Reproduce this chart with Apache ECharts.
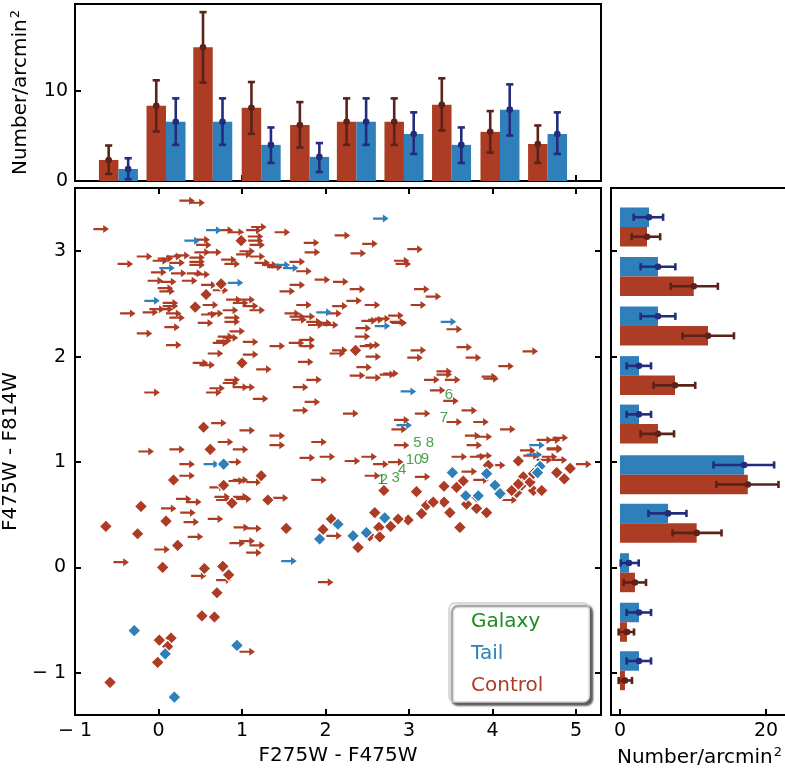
<!DOCTYPE html>
<html><head><meta charset="utf-8">
<script src="https://cdn.jsdelivr.net/npm/echarts@6/dist/echarts.min.js"></script>
<style>html,body{margin:0;padding:0;background:#fff}#c{width:785px;height:770px}</style>
</head><body><div id="c"></div>
<script>
// ---------- Top histogram (F275W - F475W bins) ----------
const topBinCenters = [-0.48, 0.09, 0.65, 1.23, 1.81, 2.37, 2.94, 3.51, 4.09, 4.66];
const topControl   = [2.33, 8.33, 14.8, 8.1, 6.2, 6.55, 6.55, 8.44, 5.44, 4.1];
const topControlLo = [0.78, 5.48, 10.9, 5.22, 3.7, 4.0, 4.0, 5.6, 3.15, 2.0];
const topControlHi = [3.93, 11.15, 18.7, 10.96, 8.74, 9.15, 9.15, 11.37, 7.74, 6.15];
const topTail      = [1.33, 6.55, 6.55, 4.0, 2.67, 6.55, 5.2, 4.0, 7.9, 5.2];
const topTailLo    = [0.19, 4.0, 4.0, 2.0, 1.0, 4.0, 3.0, 2.0, 5.04, 3.0];
const topTailHi    = [2.52, 9.15, 9.15, 5.93, 4.2, 9.15, 7.6, 5.93, 10.7, 7.6];

// ---------- Right histogram (F475W - F814W bins) ----------
const rightBinCenters = [3.23, 2.76, 2.29, 1.82, 1.36, 0.88, 0.42, -0.05, -0.52, -0.98];
const rightTail      = [3.97, 5.2, 5.2, 2.6, 2.6, 17.0, 6.58, 1.23, 2.6, 2.6];
const rightTailLo    = [1.87, 2.83, 2.83, 0.91, 0.91, 12.8, 3.9, 0.1, 0.91, 0.91];
const rightTailHi    = [5.9, 7.58, 7.58, 4.25, 4.25, 21.1, 9.1, 2.56, 4.25, 4.25];
const rightControl   = [3.7, 10.1, 12.05, 7.53, 5.2, 17.5, 10.5, 2.05, 0.96, 0.68];
const rightControlLo = [1.6, 6.94, 8.58, 4.6, 2.83, 13.2, 7.2, 0.5, -0.18, -0.18];
const rightControlHi = [5.5, 13.4, 15.6, 10.3, 7.4, 21.7, 13.9, 3.56, 1.92, 1.64];

// ---------- Colour-colour diagram ----------
// arrows: lower limits in F275W - F475W, value = arrow tail
const controlArrows = [
[0.25,3.48],[0.37,3.46],[-0.78,3.21],[0.71,3.20],[0.84,3.18],[1.05,3.20],[1.11,3.23],[1.39,3.18],
[0.43,3.11],[0.45,3.06],[1.07,3.14],[1.07,3.10],[1.09,3.06],[1.74,3.08],[1.75,2.99],[0.43,2.99],
[0.57,2.99],[-0.26,2.95],[-0.49,2.88],[-0.01,2.93],[0.09,2.95],[0.19,2.96],[0.37,2.94],[0.37,2.90],
[-0.07,2.91],[0.13,2.89],[0.37,2.87],[0.75,2.92],[0.79,2.88],[0.93,2.97],[0.97,3.00],[1.09,2.95],
[1.15,2.89],[1.24,2.87],[1.30,2.85],[1.57,2.90],[1.65,2.81],[1.87,2.73],[2.09,2.71],[-0.09,2.80],
[0.15,2.79],[0.34,2.79],[0.43,2.78],[-0.13,2.72],[0.03,2.71],[0.28,2.72],[0.51,2.68],[-0.01,2.65],
[0.01,2.62],[0.65,2.63],[1.45,2.62],[1.57,2.68],[0.05,2.51],[0.05,2.48],[0.53,2.49],[0.81,2.54],
[0.89,2.51],[0.97,2.54],[1.01,2.48],[1.09,2.44],[1.65,2.49],[2.01,2.41],[-0.46,2.41],[-0.19,2.42],
[-0.11,2.45],[-0.01,2.45],[0.09,2.41],[0.13,2.37],[0.51,2.40],[0.59,2.41],[0.47,2.32],[0.77,2.44],
[0.79,2.37],[0.79,2.33],[0.85,2.24],[1.51,2.41],[1.57,2.38],[1.59,2.35],[1.69,2.38],[1.77,2.33],
[1.79,2.30],[1.89,2.32],[1.97,2.30],[-0.26,2.22],[0.07,2.28],[0.71,2.19],[0.69,2.15],[0.77,2.18],
[0.65,2.13],[1.01,2.14],[1.33,2.10],[1.56,2.13],[1.69,2.16],[1.69,2.10],[0.09,2.11],[0.59,2.03],
[1.01,2.02],[0.41,1.94],[0.49,1.92],[1.17,1.88],[1.67,1.95],[1.77,1.78],[0.79,1.78],
[0.77,1.75],[0.89,1.71],[0.61,1.70],[0.57,1.66],[0.97,1.71],[1.61,1.71],[-0.17,1.66],[1.13,1.60],
[1.75,1.57],[1.61,1.49],[0.63,1.37],[0.97,1.30],[1.33,1.25],[1.33,1.16],[0.71,1.19],[1.83,1.19],
[-0.24,1.10],[0.13,1.12],[0.89,1.12],[1.69,1.04],[1.93,1.05],[0.25,0.98],[0.81,1.00],[0.25,0.87],
[0.84,0.82],[0.89,0.83],[1.05,0.81],[1.83,0.83],[0.61,0.76],[0.21,0.65],[0.33,0.62],[0.67,0.67],
[0.69,0.64],[0.89,0.67],[0.93,0.65],[1.37,0.66],[0.03,0.56],[0.26,0.52],[0.30,0.43],[0.59,0.46],
[0.35,0.29],[0.90,0.38],[1.05,0.37],[-0.05,0.17],[0.85,0.23],[0.97,0.25],[1.09,0.21],[1.05,0.14],
[-0.54,0.05],[0.39,-0.08],[0.69,-0.12],[1.91,-0.14],[0.97,-0.80],
[2.11,3.15],[2.44,3.07],[2.30,2.98],[2.98,3.02],[2.82,2.91],[2.84,2.88],[2.29,2.64],
[3.06,2.64],[3.20,2.57],[2.25,2.53],[2.08,2.48],[2.47,2.49],[3.02,2.49],[2.43,2.34],
[2.51,2.35],[2.59,2.36],[2.75,2.39],[2.77,2.33],[2.79,2.32],[2.36,2.27],[2.35,2.19],
[3.45,2.26],[2.08,2.06],[2.05,2.03],[2.41,2.10],[2.47,2.11],[2.48,2.00],[3.02,2.06],[2.98,1.99],
[3.57,2.09],[3.68,1.99],[4.36,2.05],[4.07,1.91],[2.37,1.90],[2.29,1.82],[2.48,1.80],[2.65,1.83],
[2.69,1.84],[3.18,1.78],[3.33,1.86],[3.33,1.83],[3.43,1.78],[3.87,1.81],[3.89,1.79],[3.25,1.68],
[3.41,1.58],[2.21,1.46],[3.07,1.46],[3.63,1.49],[2.82,1.40],[2.79,1.31],[3.45,1.38],[3.77,1.38],
[4.09,1.31],[3.67,1.25],[3.81,1.24],[2.82,1.16],[3.69,1.16],[4.53,1.21],[4.63,1.21],[4.72,1.23],[4.65,1.13],
[2.23,1.01],[2.43,1.05],[2.57,0.98],[2.75,1.00],[3.51,1.05],[3.73,1.05],[3.81,1.06],[2.47,0.87],
[3.07,0.86],[3.63,0.91],[4.37,1.06],[4.53,1.02],[4.71,1.02],[5.00,0.98],[3.97,0.97],[4.33,1.11],
[4.65,1.12],[4.59,1.05],[4.11,0.64],[2.01,0.30],[3.77,0.83]
];
const controlDiamonds = [
[0.99,3.10],[0.75,2.69],[0.57,2.59],[0.44,2.47],[1.00,1.94],[0.54,1.33],[2.36,2.06],[0.62,1.12],
[0.18,0.83],[1.23,0.87],[0.78,0.78],[0.88,0.61],[1.31,0.64],[-0.21,0.58],[0.09,0.44],[-0.63,0.39],
[-0.25,0.32],[1.53,0.37],[0.23,0.21],[0.05,0.00],[0.55,-0.01],[0.77,0.01],[0.84,-0.07],[0.70,-0.24],
[1.97,0.36],[0.52,-0.46],[0.67,-0.47],[0.01,-0.69],[0.15,-0.67],[0.11,-0.75],[-0.01,-0.90],[-0.58,-1.09],
[2.70,0.73],[3.09,0.72],[3.42,0.77],[3.65,0.82],[3.95,0.97],[4.31,1.01],[4.77,0.90],[4.93,0.94],
[4.86,0.84],[4.37,0.86],[4.29,0.71],[4.35,0.78],[4.49,0.73],[4.59,0.73],[4.45,0.81],[3.93,0.52],
[3.81,0.56],[3.61,0.38],[3.49,0.52],[3.42,0.62],[3.69,0.60],[3.57,0.76],[3.21,0.59],[3.15,0.51],
[3.29,0.62],[2.99,0.45],[2.87,0.46],[2.78,0.39],[2.59,0.52],[2.64,0.38],[2.53,0.30],[2.39,0.19],
[2.65,0.29],[4.49,0.89],[4.31,0.79],[4.23,0.73],[4.11,0.70],[3.81,0.67],[2.07,0.46]
];
const tailArrows = [
[0.57,3.20],[0.31,3.10],[0.01,2.84],[1.39,2.87],[1.49,2.84],[0.83,2.70],[-0.17,2.53],[1.89,2.42],
[2.57,3.31],[3.38,2.33],[2.59,2.29],[2.90,1.67],[2.85,1.35],[4.44,1.16],[4.41,1.07],[0.54,0.98],[1.47,0.06]
];
const tailDiamonds = [
[0.78,0.98],[1.93,0.27],[2.15,0.41],[-0.29,-0.60],[0.08,-0.82],[0.94,-0.74],[0.19,-1.23],[3.52,0.90],
[3.93,0.89],[4.57,0.96],[4.54,0.90],[4.09,0.70],[4.03,0.78],[3.83,0.68],[3.68,0.68],[2.71,0.47],
[2.49,0.33],[2.33,0.30]
];
const galaxyLabels = ['1','2','3','4','10','9','5','8','6','7'];
const galaxyX = [2.67, 2.70, 2.84, 2.92, 3.06, 3.19, 3.10, 3.25, 3.48, 3.42];
const galaxyY = [0.83, 0.83, 0.85, 0.93, 1.02, 1.03, 1.18, 1.18, 1.64, 1.42];

const xTicks = [-1, 0, 1, 2, 3, 4, 5];
const yTicks = [-1, 0, 1, 2, 3];
const topYTicks = [0, 10];
const rightXTicks = [0, 20];

// ---------- styling ----------
const RED = '#ad3c24', BLUE = '#2f7fba', RED_ERR = '#5b2219', BLUE_ERR = '#232b7c', GREEN = '#1f8a23';
const FONT = 'DejaVu Sans';
const ARROW = 'path://M0,2.9 L9.5,2.9 L9.5,0 L15,4 L9.5,8 L9.5,5.1 L0,5.1 Z';
const fmt = v => (v < 0 ? '\u2212 ' + Math.abs(v) : String(v));
const lbl = {color: '#000', fontFamily: FONT, fontSize: 19};
const nameLbl = {color: '#000', fontFamily: FONT, fontSize: 20};
const axLine = {onZero: false, lineStyle: {color: '#000', width: 2}};
const tickStyle = {color: '#000', width: 2};
const supRich = {rich: {s: {fontSize: 13, fontFamily: FONT, color: '#000', padding: [0, 0, 10, 1]}}};

function histSeries(name, centers, vals, lo, hi, horizontal, side, color, errColor, xi, yi) {
  const W = 19.5;
  return {
    type: 'custom', name: name, xAxisIndex: xi, yAxisIndex: yi,
    encode: horizontal ? {x: 1, y: 0} : {x: 0, y: 1},
    data: centers.map((c, i) => [c, vals[i], lo[i], hi[i]]),
    renderItem: function (params, api) {
      const c = api.value(0), v = api.value(1), l = api.value(2), h = api.value(3);
      const es = {stroke: errColor, lineWidth: 2.6};
      if (!horizontal) {
        const p0 = api.coord([c, 0]), p1 = api.coord([c, v]);
        const pl = api.coord([c, l]), ph = api.coord([c, h]);
        const x0 = side < 0 ? p0[0] - W : p0[0];
        const ex = x0 + W / 2;
        return {type: 'group', children: [
          {type: 'rect', shape: {x: x0, y: p1[1], width: W, height: p0[1] - p1[1]}, style: {fill: color}},
          {type: 'line', shape: {x1: ex, y1: pl[1], x2: ex, y2: ph[1]}, style: es},
          {type: 'line', shape: {x1: ex - 3.6, y1: pl[1], x2: ex + 3.6, y2: pl[1]}, style: es},
          {type: 'line', shape: {x1: ex - 3.6, y1: ph[1], x2: ex + 3.6, y2: ph[1]}, style: es},
          {type: 'circle', shape: {cx: ex, cy: p1[1], r: 3.3}, style: {fill: errColor}}
        ]};
      } else {
        const p0 = api.coord([0, c]), p1 = api.coord([v, c]);
        const pl = api.coord([l, c]), ph = api.coord([h, c]);
        const y0 = side < 0 ? p0[1] - W : p0[1];
        const ey = y0 + W / 2;
        return {type: 'group', children: [
          {type: 'rect', shape: {x: p0[0], y: y0, width: p1[0] - p0[0], height: W}, style: {fill: color}},
          {type: 'line', shape: {x1: pl[0], y1: ey, x2: ph[0], y2: ey}, style: es},
          {type: 'line', shape: {x1: pl[0], y1: ey - 3.6, x2: pl[0], y2: ey + 3.6}, style: es},
          {type: 'line', shape: {x1: ph[0], y1: ey - 3.6, x2: ph[0], y2: ey + 3.6}, style: es},
          {type: 'circle', shape: {cx: p1[0], cy: ey, r: 3.3}, style: {fill: errColor}}
        ]};
      }
    }
  };
}

const chart = echarts.init(document.getElementById('c'), null, {renderer: 'canvas'});
chart.setOption({
  animation: false,
  backgroundColor: '#fff',
  grid: [
    {left: 75, top: 188, width: 526, height: 527, show: true, borderColor: '#000', borderWidth: 2, backgroundColor: 'transparent', outerBoundsMode: 'none'},
    {left: 75, top: 4, width: 526, height: 177, show: true, borderColor: '#000', borderWidth: 2, backgroundColor: 'transparent', outerBoundsMode: 'none'},
    {left: 611, top: 188, width: 177, height: 527, show: true, borderColor: '#000', borderWidth: 2, backgroundColor: 'transparent', outerBoundsMode: 'none'}
  ],
  xAxis: [
    {gridIndex: 0, type: 'value', min: -1, max: 5.3, position: 'bottom', axisLine: axLine,
     axisTick: {inside: true, length: 6, lineStyle: tickStyle, customValues: xTicks},
     axisLabel: Object.assign({customValues: xTicks, formatter: fmt, margin: 7}, lbl),
     splitLine: {show: false}, name: 'F275W - F475W', nameLocation: 'middle', nameGap: 27, nameTextStyle: nameLbl},
    {gridIndex: 0, type: 'value', min: -1, max: 5.3, position: 'top', axisLine: axLine,
     axisTick: {inside: true, length: 6, lineStyle: tickStyle, customValues: xTicks},
     axisLabel: {show: false}, splitLine: {show: false}},
    {gridIndex: 1, type: 'value', min: -1, max: 5.3, position: 'bottom', axisLine: axLine,
     axisTick: {inside: true, length: 6, lineStyle: tickStyle, customValues: xTicks},
     axisLabel: {show: false}, splitLine: {show: false}},
    {gridIndex: 2, type: 'value', min: -1.23, max: 23, position: 'bottom', axisLine: axLine,
     axisTick: {inside: true, length: 6, lineStyle: tickStyle, customValues: rightXTicks},
     axisLabel: Object.assign({customValues: rightXTicks, margin: 7}, lbl),
     splitLine: {show: false}, name: 'Number/arcmin{s|2}', nameLocation: 'middle', nameGap: 27,
     nameTextStyle: Object.assign({}, nameLbl, supRich)}
  ],
  yAxis: [
    {gridIndex: 0, type: 'value', min: -1.4, max: 3.6, position: 'left', axisLine: axLine,
     axisTick: {inside: true, length: 6, lineStyle: tickStyle, customValues: yTicks},
     axisLabel: Object.assign({customValues: yTicks, formatter: fmt, margin: 9}, lbl),
     splitLine: {show: false}, name: 'F475W - F814W', nameLocation: 'middle', nameGap: 43, nameTextStyle: nameLbl},
    {gridIndex: 0, type: 'value', min: -1.4, max: 3.6, position: 'right', axisLine: axLine,
     axisTick: {inside: true, length: 6, lineStyle: tickStyle, customValues: yTicks},
     axisLabel: {show: false}, splitLine: {show: false}},
    {gridIndex: 1, type: 'value', min: 0, max: 19.6, position: 'left', axisLine: axLine,
     axisTick: {inside: true, length: 6, lineStyle: tickStyle, customValues: topYTicks},
     axisLabel: Object.assign({customValues: topYTicks, margin: 7}, lbl),
     splitLine: {show: false}, name: 'Number/arcmin{s|2}', nameLocation: 'middle', nameGap: 43,
     nameTextStyle: Object.assign({}, nameLbl, supRich)},
    {gridIndex: 2, type: 'value', min: -1.4, max: 3.6, position: 'left', axisLine: axLine,
     axisTick: {inside: true, length: 6, lineStyle: tickStyle, customValues: yTicks},
     axisLabel: {show: false}, splitLine: {show: false}}
  ],
  legend: {
    data: [
      {name: 'Galaxy', textStyle: {color: GREEN}},
      {name: 'Tail', textStyle: {color: BLUE}},
      {name: 'Control', textStyle: {color: RED}}
    ],
    orient: 'vertical', left: 449, top: 603, icon: 'none', itemWidth: 0, itemHeight: 20, itemGap: 12,
    padding: [9, 46, 6, 17], backgroundColor: '#fff', borderColor: '#cfcfcf', borderWidth: 1.5, borderRadius: 6,
    shadowColor: 'rgba(60,60,60,0.85)', shadowBlur: 2, shadowOffsetX: 3, shadowOffsetY: 3,
    textStyle: {fontFamily: FONT, fontSize: 20}, selectedMode: false
  },
  series: [
    histSeries('Control', topBinCenters, topControl, topControlLo, topControlHi, false, -1, RED, RED_ERR, 2, 2),
    histSeries('Tail', topBinCenters, topTail, topTailLo, topTailHi, false, 1, BLUE, BLUE_ERR, 2, 2),
    histSeries('Tail', rightBinCenters, rightTail, rightTailLo, rightTailHi, true, -1, BLUE, BLUE_ERR, 3, 3),
    histSeries('Control', rightBinCenters, rightControl, rightControlLo, rightControlHi, true, 1, RED, RED_ERR, 3, 3),
    {type: 'scatter', name: 'Control', xAxisIndex: 0, yAxisIndex: 0, data: controlArrows,
     symbol: ARROW, symbolSize: [15.5, 8], symbolOffset: ['50%', 0], itemStyle: {color: RED, opacity: 1}, silent: true},
    {type: 'scatter', name: 'Control', xAxisIndex: 0, yAxisIndex: 0, data: controlDiamonds,
     symbol: 'diamond', symbolSize: 13, itemStyle: {color: RED, opacity: 1, borderColor: '#fff', borderWidth: 1.2}, silent: true},
    {type: 'scatter', name: 'Tail', xAxisIndex: 0, yAxisIndex: 0, data: tailArrows,
     symbol: ARROW, symbolSize: [15.5, 8], symbolOffset: ['50%', 0], itemStyle: {color: BLUE, opacity: 1}, silent: true},
    {type: 'scatter', name: 'Tail', xAxisIndex: 0, yAxisIndex: 0, data: tailDiamonds,
     symbol: 'diamond', symbolSize: 13, itemStyle: {color: BLUE, opacity: 1, borderColor: '#fff', borderWidth: 1.2}, silent: true},
    {type: 'scatter', name: 'Galaxy', xAxisIndex: 0, yAxisIndex: 0,
     data: galaxyLabels.map((n, i) => ({name: n, value: [galaxyX[i], galaxyY[i]]})),
     symbolSize: 1, itemStyle: {color: 'rgba(0,0,0,0)'}, silent: true,
     label: {show: true, position: 'inside', formatter: '{b}', color: GREEN, fontSize: 15, fontFamily: 'Liberation Sans'}}
  ]
});
</script></body></html>
